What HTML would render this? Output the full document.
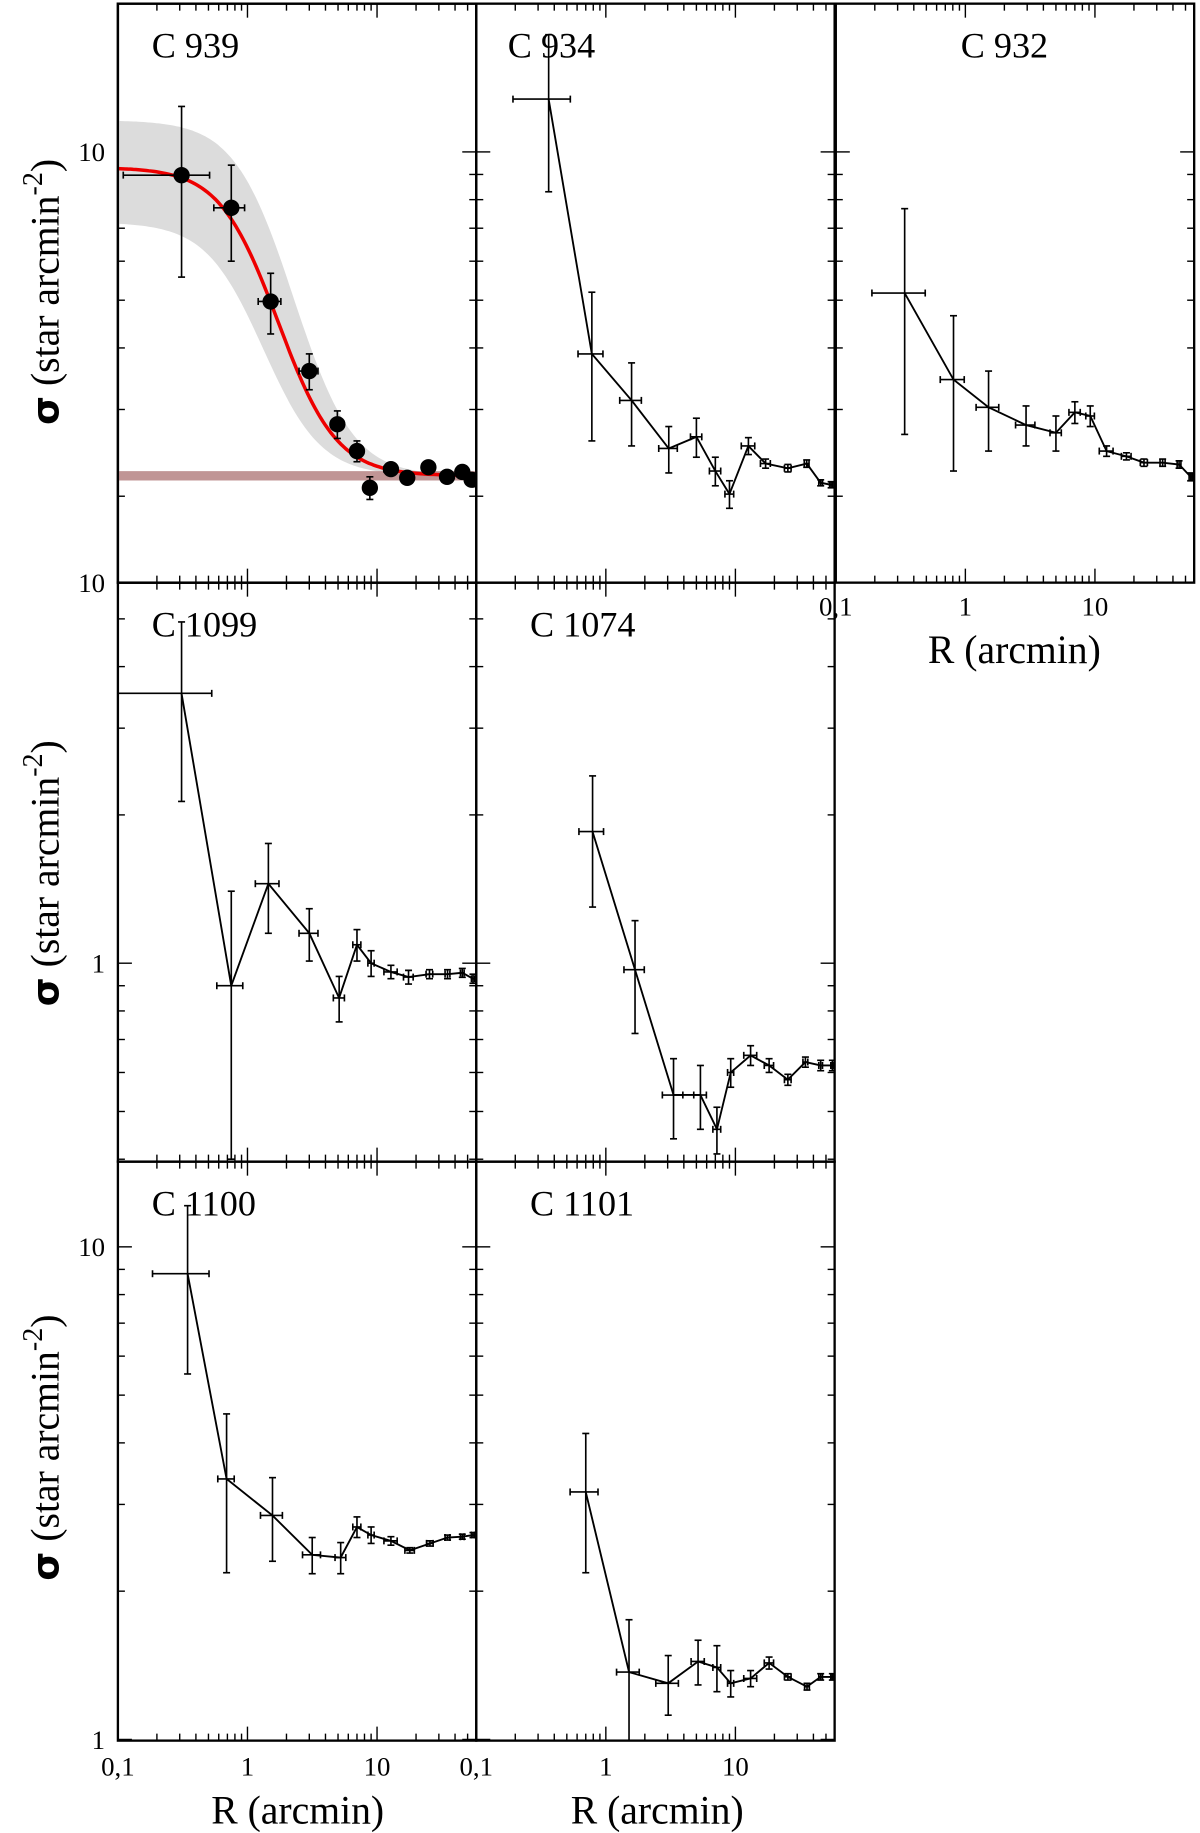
<!DOCTYPE html>
<html><head><meta charset="utf-8"><style>
html,body{margin:0;padding:0;background:#fff}
svg{display:block}
text{font-family:"Liberation Serif",serif;fill:#000}
</style></head><body>
<svg id="fig" width="1200" height="1833" viewBox="0 0 1028 1570" xmlns="http://www.w3.org/2000/svg"></svg>
<script>
// ---- data (R in arcmin, sigma in star arcmin^-2) ----
const c939R   = [0.31,0.75,1.51,3.0,4.94,7.0,8.8,12.8,17.1,24.9,34.7,45.5,53.7];
const c939S   = [8.97,7.7,4.97,3.59,2.8,2.47,2.08,2.27,2.18,2.29,2.19,2.24,2.16];
const c939E   = [3.4,1.7,0.7,0.3,0.18,0.12,0.11,0.05,0.05,0.05,0.05,0.05,0.05];
const c939RE  = [0.2,0.2,0.3,0.5,0.5,0.5,0.5,1.5,1.5,1.5,1.5,1.5,1.5];
const c939Fit = [2.2,7.1,1.2]; // background, central density, core radius

const c934R  = [0.362,0.78,1.58,3.06,5.0,7.0,9.0,12.6,17.1,25.4,35.5,45.5,54.8];
const c934S  = [12.8,3.89,3.13,2.5,2.64,2.25,2.02,2.53,2.33,2.28,2.33,2.13,2.11];
const c934E  = [4.5,1.3,0.6,0.27,0.24,0.15,0.13,0.1,0.05,0.04,0.04,0.03,0.03];
const c934RE = [0.17,0.17,0.3,0.5,0.5,0.7,0.7,1.5,1.5,1.5,1.5,1.5,1.5];

const c932R  = [0.34,0.81,1.51,2.94,5.0,7.0,9.2,12.3,17.5,23.9,33.3,44.6,54.8];
const c932S  = [5.17,3.45,3.03,2.79,2.69,2.96,2.91,2.47,2.41,2.34,2.34,2.32,2.19];
const c932E  = [2.5,1.2,0.56,0.26,0.22,0.15,0.14,0.06,0.04,0.04,0.04,0.04,0.04];
const c932RE = [0.15,0.17,0.3,0.5,0.5,0.7,0.7,1.5,1.5,1.5,1.5,1.5,1.5];

const c1099R  = [0.31,0.75,1.45,3.0,5.1,7.0,9.0,12.8,17.5,25.4,35,45.5,55];
const c1099S  = [3.53,0.9,1.45,1.15,0.85,1.09,1.0,0.96,0.937,0.95,0.95,0.956,0.93];
const c1099E  = [1.4,0.5,0.3,0.14,0.09,0.08,0.06,0.03,0.03,0.02,0.02,0.02,0.02];
const c1099RE = [0.22,0.17,0.3,0.5,0.5,0.5,0.5,1.5,1.5,1.5,1.5,1.5,1.5];

const c1074R  = [0.79,1.68,3.33,5.37,7.2,9.2,13.1,18.2,25.4,34.7,45.5,56];
const c1074S  = [1.85,0.97,0.54,0.54,0.46,0.6,0.65,0.62,0.58,0.63,0.62,0.62];
const c1074E  = [0.55,0.25,0.1,0.08,0.05,0.04,0.03,0.02,0.015,0.015,0.015,0.015];
const c1074RE = [0.17,0.3,0.6,0.6,0.5,0.5,1.5,1.5,1.5,1.5,1.5,1.5];

const c1100R  = [0.345,0.69,1.56,3.16,5.24,7.0,9.0,12.8,17.9,25.6,35,45.5,55];
const c1100S  = [8.82,3.38,2.85,2.37,2.34,2.7,2.6,2.53,2.42,2.5,2.57,2.58,2.6];
const c1100E  = [3.3,1.2,0.55,0.2,0.17,0.13,0.1,0.05,0.03,0.03,0.03,0.03,0.03];
const c1100RE = [0.16,0.1,0.3,0.5,0.5,0.5,0.5,1.5,1.5,1.5,1.5,1.5,1.5];

const c1101R  = [0.7,1.51,3.03,5.15,7.2,9.2,13.1,18.2,25.4,35.7,45.5,56];
const c1101S  = [3.18,1.37,1.3,1.44,1.4,1.3,1.33,1.43,1.34,1.28,1.34,1.34];
const c1101E  = [1.0,0.38,0.18,0.15,0.15,0.08,0.05,0.04,0.02,0.02,0.02,0.02];
const c1101RE = [0.17,0.3,0.6,0.6,0.5,0.5,1.5,1.5,1.5,1.5,1.5,1.5];

const xTickLabels = ["0,1","1","10"];

// ---- layout (in viewBox units) ----
const NS = "http://www.w3.org/2000/svg";
const svg = document.getElementById('fig');
const colX = [101,408,716], colW = 307;
const rowY = [3,499,995], rowH = 496;
const DEC = 422, XDEC = 111;
const rowY1 = [130+DEC, 825, 1490];

function el(tag, attrs, parent){
  const e = document.createElementNS(NS, tag);
  for (const k in attrs) e.setAttribute(k, attrs[k]);
  (parent||svg).appendChild(e);
  return e;
}
function makeX(left){ return r => left + (Math.log10(r)+1)*XDEC; }
function makeY(row){ return s => rowY1[row] - Math.log10(s)*DEC; }

function frame(col,row,name){
  const g = el('g',{});
  
  
  const x0=colX[col], y0=rowY[row], x1=x0+colW, y1=y0+rowH;
  const X = makeX(x0), Y = makeY(row);
  const cp = el('clipPath',{id:'cp-'+name}, g);
  el('rect',{x:x0,y:y0,width:colW,height:rowH},cp);
  for (let d=-1; d<=2; d++){
    for (let m=1; m<=9; m++){
      const r = m*Math.pow(10,d); const x = X(r);
      if (x<x0-0.5 || x>x1+0.5) continue;
      const L = m===1?12:6;
      el('line',{x1:x,y1:y1,x2:x,y2:y1-L,stroke:'#000','stroke-width':1.2},g);
      el('line',{x1:x,y1:y0,x2:x,y2:y0+L,stroke:'#000','stroke-width':1.2},g);
    }
  }
  for (let d=-1; d<=2; d++){
    for (let m=1; m<=9; m++){
      const s = m*Math.pow(10,d); const y = Y(s);
      if (y<y0-0.5 || y>y1+0.5) continue;
      const L = m===1?12:6;
      el('line',{x1:x0,y1:y,x2:x0+L,y2:y,stroke:'#000','stroke-width':1.2},g);
      el('line',{x1:x1,y1:y,x2:x1-L,y2:y,stroke:'#000','stroke-width':1.2},g);
    }
  }
  el('rect',{x:x0,y:y0,width:colW,height:rowH,fill:'none',stroke:'#000','stroke-width':2},g);
  return {g,X,Y,x0,y0,x1,y1,clip:'url(#cp-'+name+')'};
}

function series(p,name,R,S,E,RE,line,dots){
  const dg = el('g',{'clip-path':p.clip},p.g);
  
  
  if (line){
    const pts = R.map((r,i)=>p.X(r).toFixed(1)+','+p.Y(S[i]).toFixed(1)).join(' ');
    const pl = el('polyline',{points:pts,fill:'none',stroke:'#000','stroke-width':1.6},dg);
    
    
  }
  R.forEach((r,i)=>{
    const x=p.X(r), y=p.Y(S[i]);
    const yt=p.Y(S[i]+E[i]), yb=p.Y(Math.max(S[i]-E[i],0.01));
    const xl=p.X(Math.max(r-RE[i],0.05)), xr=p.X(r+RE[i]);
    const e = el('g',{},dg);
    
    
    el('line',{x1:x,y1:yt,x2:x,y2:yb,stroke:'#000','stroke-width':1.4},e);
    el('line',{x1:x-3,y1:yt,x2:x+3,y2:yt,stroke:'#000','stroke-width':1.4},e);
    el('line',{x1:x-3,y1:yb,x2:x+3,y2:yb,stroke:'#000','stroke-width':1.4},e);
    el('line',{x1:xl,y1:y,x2:xr,y2:y,stroke:'#000','stroke-width':1.4},e);
    el('line',{x1:xl,y1:y-3,x2:xl,y2:y+3,stroke:'#000','stroke-width':1.4},e);
    el('line',{x1:xr,y1:y-3,x2:xr,y2:y+3,stroke:'#000','stroke-width':1.4},e);
    if (dots) el('circle',{cx:x,cy:y,r:7,fill:'#000'},e);
  });
}

function title(p,txt,dx){
  const t = el('text',{x:p.x0+(dx||29),y:p.y0+46,'font-size':31},p.g);
  t.textContent = txt;
  
  
}

function xLabels(p, yOff){
  const vals=[0.1,1,10];
  vals.forEach((v,i)=>{
    const t = el('text',{x:p.X(v),y:p.y1+yOff,'font-size':23,'text-anchor':'middle'});
    t.textContent = xTickLabels[i];
    
    
  });
}
function xTitle(cx,y){
  const t = el('text',{x:cx,y:y,'font-size':34,'text-anchor':'middle'});
  t.textContent='R (arcmin)';
  
  
}
function yTitle(cy){
  const t = el('text',{x:0,y:0,'font-size':34,'text-anchor':'middle',transform:'translate(50,'+cy+') rotate(-90)'});
  const a = el('tspan',{'font-weight':'bold','font-family':'DejaVu Sans, sans-serif','font-size':32},t); a.textContent='σ';
  const b = el('tspan',{},t); b.textContent=' (star arcmin';
  const c = el('tspan',{dy:-14,'font-size':24},t); c.textContent='-2';
  const d = el('tspan',{dy:14},t); d.textContent=')';
  
  
}
function yLabel(txt,y){
  const t = el('text',{x:90,y:y+8,'font-size':23,'text-anchor':'end'});
  t.textContent=txt;
  
  
}

// ---- C 939 with King fit ----
const p1 = frame(0,0,'c939');
{
  const bg=c939Fit[0], s0=c939Fit[1], rc=c939Fit[2];
  const up=[], lo=[], fit=[];
  for (let k=0;k<=140;k++){
    const lr = -1 + k*2.77/140, r=Math.pow(10,lr);
    const u = bg + (s0+2.3)/(1+Math.pow(r/(rc*1.25),2));
    const l = bg + (s0-2.1)/(1+Math.pow(r/(rc*0.82),2));
    const f = bg + s0/(1+Math.pow(r/rc,2));
    up.push(p1.X(r).toFixed(1)+','+p1.Y(u).toFixed(1));
    lo.push(p1.X(r).toFixed(1)+','+p1.Y(l).toFixed(1));
    fit.push(p1.X(r).toFixed(1)+','+p1.Y(f).toFixed(1));
  }
  const band = el('polygon',{points:up.concat(lo.reverse()).join(' '),fill:'#dcdcdc','clip-path':p1.clip},p1.g);
  
  
  const bl = el('line',{x1:p1.x0,x2:p1.x1,y1:p1.Y(bg),y2:p1.Y(bg),stroke:'#c09595','stroke-width':8,'clip-path':p1.clip},p1.g);
  
  
  const fl = el('polyline',{points:fit.join(' '),fill:'none',stroke:'#ee0000','stroke-width':3,'clip-path':p1.clip},p1.g);
  
  
  el('rect',{x:p1.x0,y:p1.y0,width:colW,height:rowH,fill:'none',stroke:'#000','stroke-width':2},p1.g);
}
series(p1,'c939',c939R,c939S,c939E,c939RE,false,true);
title(p1,'C 939');

const p2 = frame(1,0,'c934'); series(p2,'c934',c934R,c934S,c934E,c934RE,true,false); title(p2,'C 934',27);
const p3 = frame(2,0,'c932'); series(p3,'c932',c932R,c932S,c932E,c932RE,true,false); title(p3,'C 932',107);
const p4 = frame(0,1,'c1099'); series(p4,'c1099',c1099R,c1099S,c1099E,c1099RE,true,false); title(p4,'C 1099');
const p5 = frame(1,1,'c1074'); series(p5,'c1074',c1074R,c1074S,c1074E,c1074RE,true,false); title(p5,'C 1074',46);
const p6 = frame(0,2,'c1100'); series(p6,'c1100',c1100R,c1100S,c1100E,c1100RE,true,false); title(p6,'C 1100');
const p7 = frame(1,2,'c1101'); series(p7,'c1101',c1101R,c1101S,c1101E,c1101RE,true,false); title(p7,'C 1101',46);

xLabels(p3,28); xLabels(p6,30); xLabels(p7,30);
xTitle(869,568); xTitle(255,1562); xTitle(563,1562);
yLabel('10',130); yLabel('10',499); yLabel('1',825); yLabel('10',1068); yLabel('1',1490);
yTitle(250); yTitle(748); yTitle(1240);
</script>
</body></html>
